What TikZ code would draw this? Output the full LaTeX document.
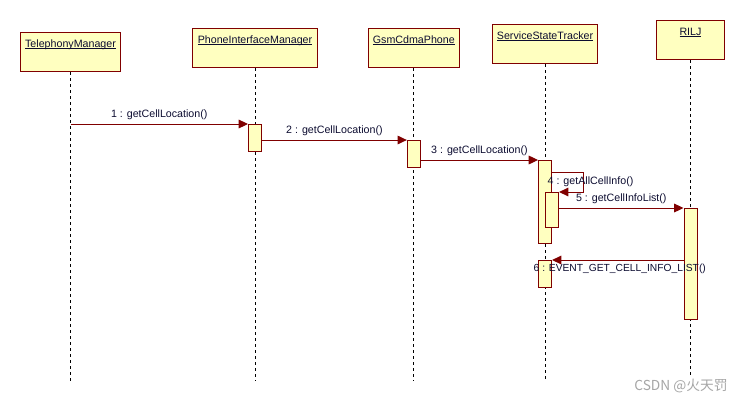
\documentclass[tikz,border=0pt]{standalone}
\usepackage{fontspec}
\setmainfont{Liberation Sans}
\newfontfamily\cjk{Noto Sans CJK SC}
\usetikzlibrary{arrows.meta, positioning}

\definecolor{umlred}{HTML}{800000}
\definecolor{umlyellow}{HTML}{FFFFC0}
\definecolor{umltext}{HTML}{0C0C30}

\newsavebox\namebox
\newcommand{\objname}[1]{\sbox\namebox{#1}\rlap{\rule[-1.3pt]{\wd\namebox}{0.6pt}}\usebox\namebox}

\begin{document}
\begin{tikzpicture}[
    x=0.75pt, y=-0.75pt,
    obj/.style={rectangle, draw=umlred, fill=umlyellow, line width=0.75pt, anchor=north west, inner ysep=5pt, text height=6pt, text depth=13.25pt, font=\fontsize{8}{9.6}\selectfont, text=umltext},
    act/.style={rectangle, draw=umlred, fill=umlyellow, line width=0.75pt, minimum width=9.75pt, inner sep=0pt, anchor=north},
    life/.style={dash pattern=on 2.25pt off 2.25pt, line width=0.75pt},
    msg/.style={draw=umlred, line width=0.75pt, -{Triangle[length=7pt, width=6.5pt]}},
    lbl/.style={font=\fontsize{8}{9.6}\selectfont, text=umltext, inner sep=3pt},
]
\useasboundingbox (0,0) rectangle (745,401);

% objects
\node[obj, minimum width=75pt] (tm) at (20,32) {\objname{TelephonyManager}};
\node[obj, minimum width=93.75pt] (pim) at (192,28) {\objname{PhoneInterfaceManager}};
\node[obj, minimum width=63.75pt] (gcp) at (368,28) {\objname{GsmCdmaPhone}};
\node[obj, minimum width=78.75pt] (sst) at (492,24) {\objname{ServiceStateTracker}};
\node[obj, minimum width=51pt] (rilj) at (656,20) {\objname{RILJ}};

% lifelines
\coordinate (bottom) at (0,381);
\foreach \o in {tm, pim, gcp, sst, rilj}
    \draw[life] (\o) -- (\o |- bottom);

% activations
\foreach \n/\y in {r1/124, r2/140, r3/160, r4/172, r5/192, r6/208, r7/260}
    \coordinate (\n) at (0,\y);
\node[act, minimum height=20.25pt] (a1) at (pim |- r1) {};
\node[act, minimum height=20.25pt] (a2) at (gcp |- r2) {};
\node[act, minimum height=62.25pt] (a3) at (sst |- r3) {};
\node[act, minimum height=26.25pt, xshift=5.25pt] (a4) at (sst |- r5) {};
\node[act, minimum height=83.25pt] (a5) at (rilj |- r6) {};
\node[act, minimum height=20.25pt] (a6) at (sst |- r7) {};

% messages
\draw[msg] (tm |- a1.north) -- node[lbl, above] {1 : getCellLocation()} (a1.north west);
\draw[msg] (a1.east |- a2.north) -- node[lbl, above] {2 : getCellLocation()} (a2.north west);
\draw[msg] (a2.east |- a3.north) -- node[lbl, above] {3 : getCellLocation()} (a3.north west);
\draw[msg] (a3.east |- r4) -- ++(31,0) |- node[lbl, pos=0.25, xshift=5.6pt] {4 : getAllCellInfo()} (a4.north east);
\draw[msg] (a4.east |- a5.north) -- node[lbl, above] {5 : getCellInfoList()} (a5.north west);
\draw[msg] (a5.west |- a6.north) -- node[lbl, below, xshift=1.5pt, font=\fontsize{7.7}{9.2}\selectfont] {6 : EVENT\_GET\_CELL\_INFO\_LIST()} (a6.north east);

% watermark
\node[font=\cjk\fontsize{10.3}{12}\selectfont, text=gray!70, fill=white, inner sep=2pt] (mark) at (681,386) {CSDN @火天罚};

\end{tikzpicture}
\end{document}
